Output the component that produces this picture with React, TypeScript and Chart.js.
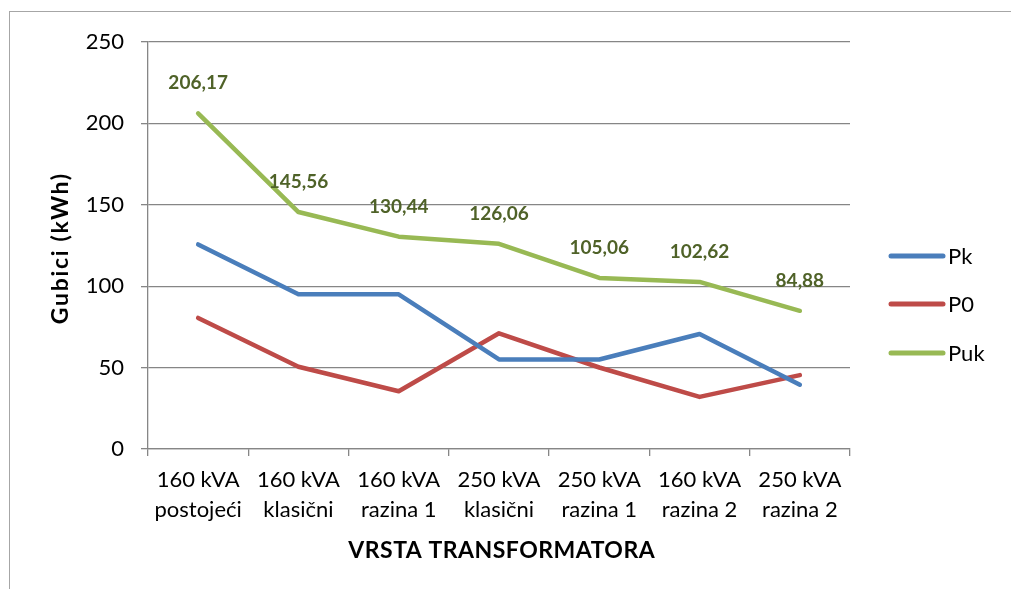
import React, { useEffect, useRef } from "react";
import { Chart, registerables } from "chart.js";

Chart.register(...registerables);

const categories: string[][] = [
  ["160 kVA", "postojeći"],
  ["160 kVA", "klasični"],
  ["160 kVA", "razina 1"],
  ["250 kVA", "klasični"],
  ["250 kVA", "razina 1"],
  ["160 kVA", "razina 2"],
  ["250 kVA", "razina 2"],
];
const pkValues = [125.67, 95.06, 95.0, 55.0, 55.0, 70.62, 39.5];
const p0Values = [80.5, 50.5, 35.44, 71.06, 50.06, 32.0, 45.38];
const pukValues = [206.17, 145.56, 130.44, 126.06, 105.06, 102.62, 84.88];
const pukLabels = ["206,17", "145,56", "130,44", "126,06", "105,06", "102,62", "84,88"];
const seriesNames = ["Pk", "P0", "Puk"];
const seriesColors = ["#4A7EBB", "#BE4B48", "#98B954"];
const yTitle = "Gubici (kWh)";
const xTitle = "VRSTA TRANSFORMATORA";

const FONT = "Lato, 'Open Sans', sans-serif";

function fitText(ctx: CanvasRenderingContext2D, text: string, x: number, y: number, width: number) {
  const anyCtx = ctx as any;
  anyCtx.letterSpacing = "0px";
  const w = ctx.measureText(text).width;
  const n = text.length;
  const sp = n > 1 ? (width - w) / n : 0;
  anyCtx.letterSpacing = `${Math.max(-1, Math.min(3, sp)).toFixed(2)}px`;
  const w2 = ctx.measureText(text).width;
  ctx.textAlign = "left";
  ctx.fillText(text, x - w2 / 2 + sp / 2, y);
  anyCtx.letterSpacing = "0px";
}

const decorPlugin = {
  id: "decor",
  beforeDraw(chart: any) {
    const ctx = chart.ctx;
    ctx.save();
    ctx.fillStyle = "#ffffff";
    ctx.fillRect(0, 0, chart.width, chart.height);
    ctx.strokeStyle = "#A6A6A6";
    ctx.lineWidth = 1;
    ctx.strokeRect(9.5, 11.5, 1200, 800);
    ctx.restore();
  },
  afterDraw(chart: any) {
    const ctx = chart.ctx;
    const area = chart.chartArea;
    ctx.save();
    // data labels for Puk
    const meta = chart.getDatasetMeta(2);
    ctx.font = `bold 19px ${FONT}`;
    ctx.fillStyle = "#4F6228";
    ctx.textAlign = "center";
    ctx.textBaseline = "middle";
    meta.data.forEach((pt: any, i: number) => {
      ctx.fillText(pukLabels[i], pt.x, pt.y - 30);
    });
    // legend
    const legendY = [256, 304, 353];
    seriesNames.forEach((name, i) => {
      ctx.strokeStyle = seriesColors[i];
      ctx.lineWidth = 5;
      ctx.lineCap = "round";
      ctx.beginPath();
      ctx.moveTo(891, legendY[i]);
      ctx.lineTo(943, legendY[i]);
      ctx.stroke();
      ctx.fillStyle = "#000000";
      ctx.font = `22px ${FONT}`;
      ctx.textAlign = "left";
      ctx.textBaseline = "middle";
      ctx.fillText(name, 948, legendY[i] + 1);
    });
    // axis titles
    ctx.fillStyle = "#000000";
    ctx.font = `bold 23px ${FONT}`;
    ctx.textBaseline = "middle";
    fitText(ctx, xTitle, 501.5, 551, 307);
    ctx.translate(61, 249);
    ctx.rotate(-Math.PI / 2);
    fitText(ctx, yTitle, 0, 0, 152);
    ctx.restore();
  },
};

export default function App() {
  const canvasRef = useRef<HTMLCanvasElement>(null);

  useEffect(() => {
    const canvas = canvasRef.current;
    if (!canvas) return;
    const chart = new Chart(canvas, {
      type: "line",
      data: {
        labels: categories,
        datasets: [pkValues, p0Values, pukValues].map((vals, i) => ({
          label: seriesNames[i],
          data: vals,
          borderColor: seriesColors[i],
          backgroundColor: seriesColors[i],
          borderWidth: 4.5,
          pointRadius: 0,
          tension: 0,
          borderJoinStyle: "round" as const,
          borderCapStyle: "round" as const,
        })),
      },
      options: {
        responsive: false,
        animation: false,
        layout: { padding: { left: 0, top: 42, right: 161, bottom: 0 } },
        plugins: {
          legend: { display: false },
          tooltip: { enabled: false },
          title: { display: false },
        },
        scales: {
          x: {
            offset: true,
            grid: {
              offset: true,
              drawOnChartArea: false,
              drawTicks: true,
              tickLength: 7,
              color: "#868686",
              lineWidth: 1.3,
            },
            border: { color: "#868686", width: 1.3 },
            ticks: {
              color: "#000000",
              font: { family: FONT, size: 22, lineHeight: 1.36 },
              padding: 9,
              maxRotation: 0,
              autoSkip: false,
            },
            afterFit(scale: any) {
              scale.height = 140;
            },
          },
          y: {
            min: 0,
            max: 250,
            grid: {
              color: "#868686",
              lineWidth: 1.3,
              tickLength: 7,
            },
            border: { color: "#868686", width: 1.3 },
            ticks: {
              stepSize: 50,
              color: "#000000",
              font: { family: FONT, size: 22 },
              padding: 17,
            },
            afterFit(scale: any) {
              scale.width = 148;
            },
          },
        },
      },
      plugins: [decorPlugin],
    });
    return () => chart.destroy();
  }, []);

  return (
    <div style={{ position: "fixed", left: 0, top: 0, width: 1011, height: 589, background: "#fff" }}>
      <canvas ref={canvasRef} width={1011} height={589} style={{ width: 1011, height: 589 }} />
    </div>
  );
}
